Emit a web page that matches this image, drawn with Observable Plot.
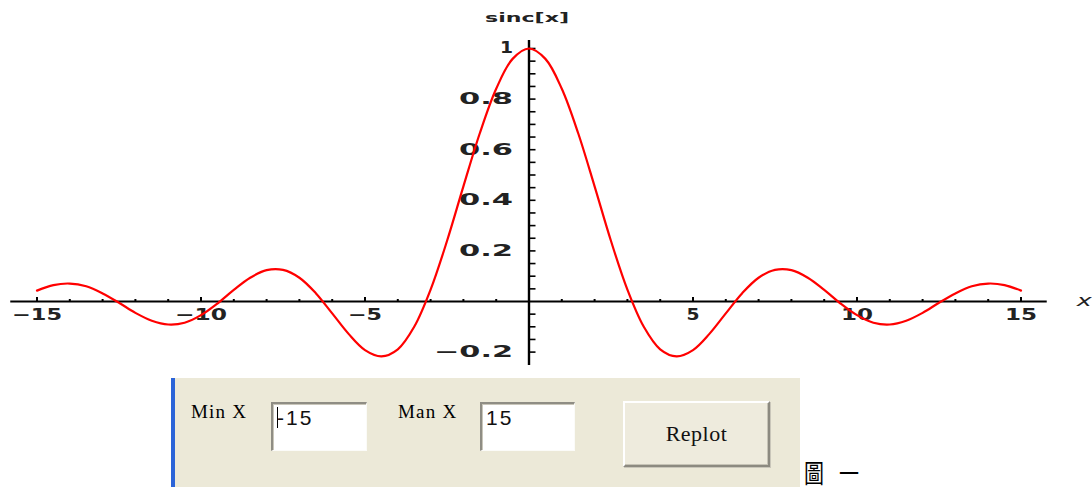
<!DOCTYPE html>
<html>
<head>
<meta charset="utf-8">
<script src="https://cdn.jsdelivr.net/npm/d3@7"></script>
<script src="https://cdn.jsdelivr.net/npm/@observablehq/plot@0.6"></script>
<style>
  html, body { margin: 0; padding: 0; background: #fff; overflow: hidden; }
  #wrap { position: relative; width: 1092px; height: 490px; }
  #chart svg { display: block; }
  .panel { position: absolute; left: 171px; top: 378px; width: 629px; height: 109px;
           background: #ECE9D8; border-left: 4px solid #2b64d8; box-sizing: border-box; }
  .lbl { position: absolute; font-family: "Liberation Serif", serif; font-size: 19px;
         line-height: 19px; color: #000; letter-spacing: 1.2px; white-space: nowrap; }
  .box { position: absolute; background: #fff; box-sizing: border-box;
         border-top: 2px solid #8f8d84; border-left: 2px solid #8f8d84;
         border-right: 1px solid #fbfbf8; border-bottom: 1px solid #fbfbf8;
         box-shadow: inset 1px 1px 0 #c9c6ba; }
  .box .v { position: absolute; left: 4px; top: 3px; font-family: "Liberation Sans Narrow", "Liberation Sans", sans-serif;
            font-size: 21px; line-height: 21px; color: #111; white-space: nowrap; letter-spacing: 2px; }
  .cursor { position: absolute; left: 4px; top: 3px; width: 1px; height: 21px; background: #000; }
  .btn { position: absolute; left: 623px; top: 401px; width: 147px; height: 66px; box-sizing: border-box;
         background: #EEEBDD; border-top: 2px solid #ffffff; border-left: 2px solid #ffffff;
         border-right: 2px solid #8c8a80; border-bottom: 2px solid #8c8a80;
         box-shadow: 1px 1px 0 #c9c6ba, inset -1px -1px 0 #c6c3b6;
         display: flex; align-items: center; justify-content: center;
         font-family: "Liberation Serif", serif; font-size: 22px; letter-spacing: 0.5px; color: #111; }
  .fig { position: absolute; left: 804px; top: 460px; font-family: "Noto Sans CJK TC", sans-serif;
         font-size: 20px; line-height: 20px; color: #000; transform-origin: 0 0; transform: scale(1, 1.3);
         letter-spacing: 15px; white-space: nowrap; }
</style>
</head>
<body>
<div id="wrap">
  <div id="chart"></div>
  <div class="panel"></div>
  <div class="lbl" style="left:191px;top:402px;">Min X</div>
  <div class="box" style="left:271px;top:402px;width:96px;height:49px;">
    <span class="v">-15</span><span class="cursor"></span>
  </div>
  <div class="lbl" style="left:398px;top:402px;">Man X</div>
  <div class="box" style="left:480px;top:402px;width:95px;height:49px;">
    <span class="v">15</span>
  </div>
  <div class="btn">Replot</div>
  <div class="fig">圖一</div>
</div>
<script>
// ---- data ----
const xValues = [-15, -14.5, -14, -13.5, -13, -12.5, -12, -11.5, -11, -10.5, -10, -9.5, -9, -8.5, -8, -7.5, -7, -6.5, -6, -5.5, -5, -4.5, -4, -3.5, -3, -2.5, -2, -1.5, -1, -0.5,
  0, 0.5, 1, 1.5, 2, 2.5, 3, 3.5, 4, 4.5, 5, 5.5, 6, 6.5, 7, 7.5, 8, 8.5, 9, 9.5, 10, 10.5, 11, 11.5, 12, 12.5, 13, 13.5, 14, 14.5, 15];
const sincValues = [0.043, 0.065, 0.071, 0.060, 0.032, -0.005, -0.045, -0.076, -0.091, -0.084, -0.054, -0.008, 0.046, 0.094, 0.124, 0.125, 0.094, 0.033, -0.047, -0.128, -0.192, -0.217, -0.189, -0.100, 0.047, 0.239, 0.455, 0.665, 0.841, 0.959,
  1.000, 0.959, 0.841, 0.665, 0.455, 0.239, 0.047, -0.100, -0.189, -0.217, -0.192, -0.128, -0.047, 0.033, 0.094, 0.125, 0.124, 0.094, 0.046, -0.008, -0.054, -0.084, -0.091, -0.076, -0.045, -0.005, 0.032, 0.060, 0.071, 0.065, 0.043];

const xMajorTicks = [-15, -10, -5, 5, 10, 15];
const xTickLabels = ["\u221215", "\u221210", "\u22125", "5", "10", "15"];
const xMinorTicks = [-14, -13, -12, -11, -9, -8, -7, -6, -4, -3, -2, -1, 1, 2, 3, 4, 6, 7, 8, 9, 11, 12, 13, 14];
const yTickValues = [-0.2, 0.2, 0.4, 0.6, 0.8, 1];
const yTickLabels = ["\u22120.2", "0.2", "0.4", "0.6", "0.8", "1"];
const yMinorTicks = [-0.2, -0.15, -0.1, -0.05, 0.05, 0.1, 0.15, 0.2, 0.25, 0.3, 0.35, 0.4, 0.45, 0.5, 0.55, 0.6, 0.65, 0.7, 0.75, 0.8, 0.85, 0.9, 0.95, 1];
const yAxisTitle = "sinc[x]";
const xAxisTitle = "x";
const xAxisExtent = [-15.8, 15.8];
const yAxisExtent = [-0.253, 1.032];

const data = xValues.map((x, i) => ({x, y: sincValues[i]}));

const pxX = 1 / 32.8;   // one pixel in x units
const pxY = 1 / 253;    // one pixel in y units
const tickFont = "DejaVu Sans";

const chart = Plot.plot({
  width: 1092,
  height: 375,
  margin: 0,
  style: {background: "#fff", overflow: "visible"},
  x: {domain: [-15, 15], range: [36.5, 1020.5], axis: null},
  y: {domain: [-0.2, 1], range: [351.6, 48], axis: null},
  marks: [
    Plot.ruleY([0], {x1: xAxisExtent[0], x2: xAxisExtent[1], stroke: "#000", strokeWidth: 2}),
    Plot.ruleX([0], {y1: yAxisExtent[0], y2: yAxisExtent[1], stroke: "#000", strokeWidth: 2.4}),
    Plot.ruleX(xMinorTicks, {x: d => d, y1: 0, y2: 2 * pxY, stroke: "#000", strokeWidth: 2}),
    Plot.ruleX(xMajorTicks, {x: d => d, y1: 0, y2: 4 * pxY, stroke: "#000", strokeWidth: 2}),
    Plot.ruleY(yMinorTicks, {y: d => d, x1: 0, x2: 7 * pxX, stroke: "#000", strokeWidth: 1.6}),
    Plot.text(xMajorTicks, {x: d => d, y: 0, dy: 14, text: (d, i) => xTickLabels[i],
      fontFamily: tickFont, fontSize: 15, fontWeight: "bold", fill: "#222", textAnchor: "middle", lineAnchor: "middle"}),
    Plot.text(yTickValues, {x: 0, y: d => d, dx: -16, text: (d, i) => yTickLabels[i],
      fontFamily: tickFont, fontSize: 15, fontWeight: "bold", fill: "#222", textAnchor: "end", lineAnchor: "middle"}),
    Plot.text([yAxisTitle], {x: 0, y: 1, dx: -2, dy: -31, text: d => d,
      fontFamily: tickFont, fontSize: 13, fontWeight: "bold", fill: "#222", textAnchor: "middle", lineAnchor: "middle"}),
    Plot.text([xAxisTitle], {x: xAxisExtent[1], y: 0, dx: 37, dy: -1, text: d => d,
      fontFamily: tickFont, fontSize: 16, fontStyle: "italic", fill: "#222", textAnchor: "middle", lineAnchor: "middle"}),
    Plot.line(data, {x: "x", y: "y", stroke: "#ff0000", strokeWidth: 2.2, curve: "catmull-rom"})
  ]
});
document.getElementById("chart").appendChild(chart);

// stretch the tick glyphs horizontally like the original rendering
const stretch = {"\u221215": 50, "\u221210": 52, "\u22125": 34, "5": 13, "10": 32, "15": 32,
  "\u22120.2": 79, "0.2": 54, "0.4": 54, "0.6": 54, "0.8": 54, "1": 13, "sinc[x]": 84, "x": 15};
chart.querySelectorAll("text").forEach(t => {
  const w = stretch[t.textContent];
  if (w) { t.setAttribute("textLength", w); t.setAttribute("lengthAdjust", "spacingAndGlyphs"); }
});
</script>
</body>
</html>
